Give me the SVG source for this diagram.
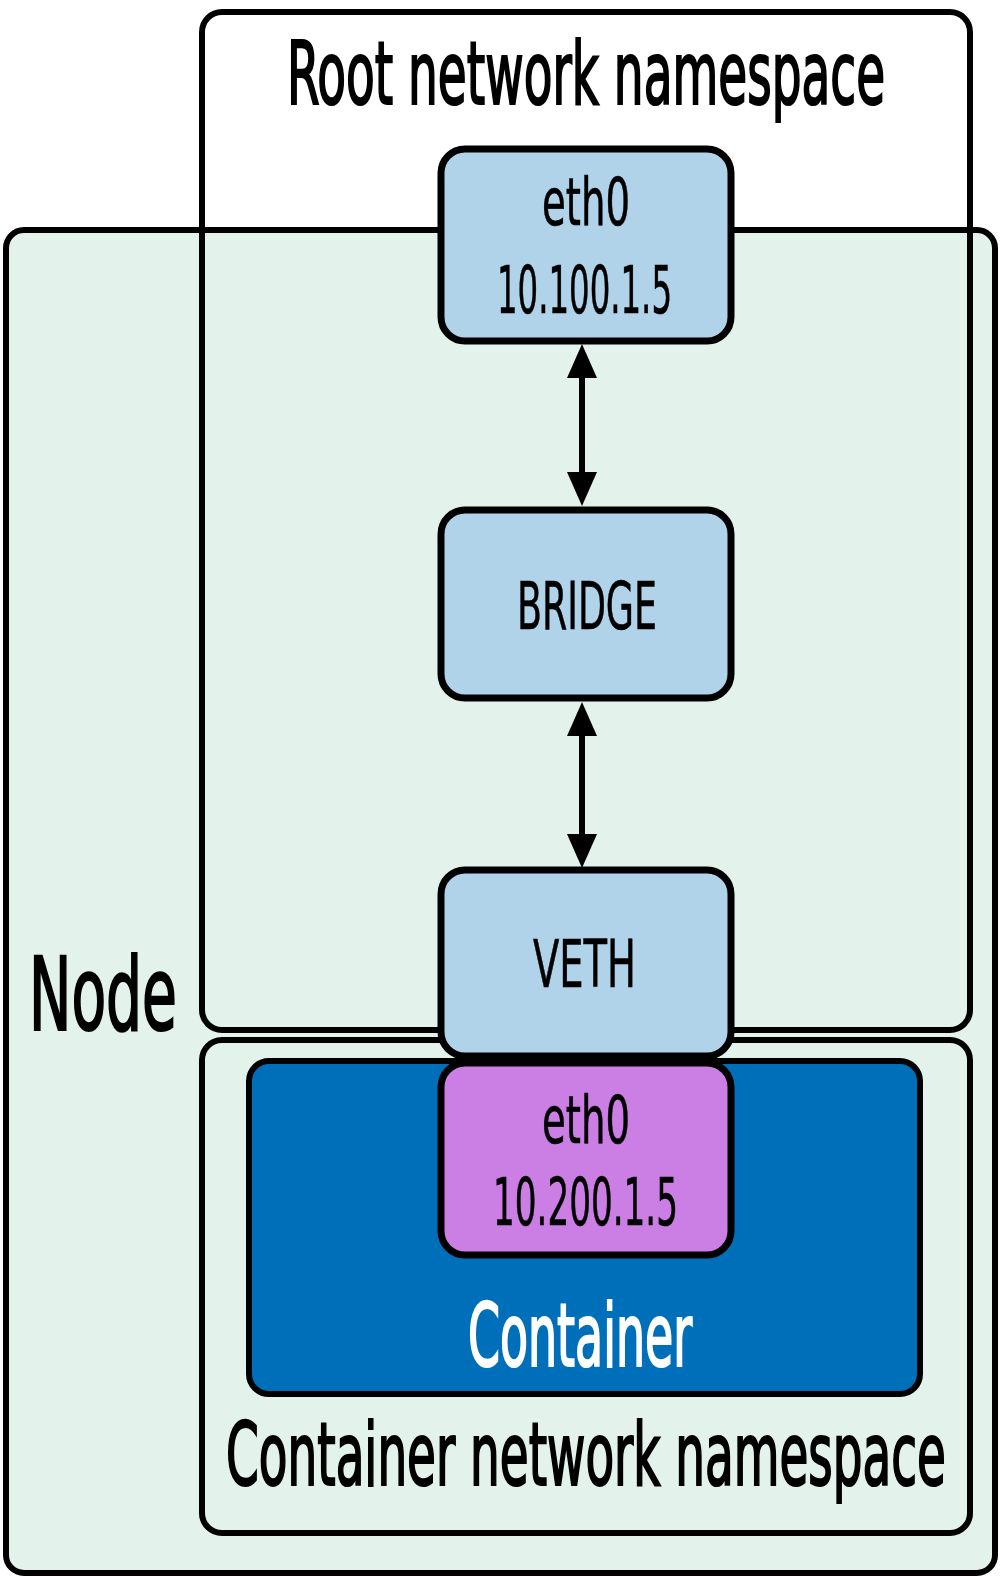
<svg xmlns="http://www.w3.org/2000/svg" width="1002" height="1577" viewBox="0 0 1002 1577">
  <style>
    .frame { stroke: #000; stroke-width: 6; }
    .iface { fill: #b1d3ea; stroke: #000; stroke-width: 7; }
    .pink { fill: #cb7ee3; stroke: #000; stroke-width: 7; }
    .t { font-family: "DejaVu Sans Condensed", "Liberation Sans", sans-serif; fill: #000; text-anchor: middle; }
    .big { font-size: 88px; stroke: #000; stroke-width: 2.2; }
    .mid { font-size: 66px; stroke: #000; stroke-width: 0.6; }
    .arrow { stroke: #000; stroke-width: 6; fill: none; }
    .head { fill: #000; }
  </style>
  <rect width="1002" height="1577" fill="#ffffff"/>

  <g id="node">
    <rect class="frame" x="6" y="230" width="989" height="1343" rx="18" fill="#e3f2eb"/>
    <text class="t big" transform="translate(29,1030) scale(0.74,1)" x="0" y="0" style="text-anchor:start;font-size:102px" textLength="200" lengthAdjust="spacingAndGlyphs">Node</text>
  </g>

  <g id="root-ns">
    <rect class="frame" x="202" y="12" width="768" height="1018" rx="20" fill="none"/>
    <text class="t big" transform="translate(586,104) scale(0.6,1)" x="0" y="0" textLength="997" lengthAdjust="spacingAndGlyphs">Root network namespace</text>
  </g>

  <g id="container-ns">
    <rect class="frame" x="202" y="1040" width="768" height="493" rx="20" fill="none"/>
    <text class="t big" transform="translate(586,1485) scale(0.58,1)" x="0" y="0" textLength="1241" lengthAdjust="spacingAndGlyphs">Container network namespace</text>
  </g>

  <g id="container">
    <rect x="249" y="1061" width="671" height="333" rx="20" fill="#006fb9" stroke="#000" stroke-width="6"/>
    <text class="t big" transform="translate(580,1366) scale(0.52,1)" x="0" y="0" style="fill:#ffffff;stroke:#ffffff" textLength="431" lengthAdjust="spacingAndGlyphs">Container</text>
  </g>

  <g id="connectors">
    <line class="arrow" x1="582" y1="370" x2="582" y2="480"/>
    <polygon class="head" points="582,344 567,378 597,378"/>
    <polygon class="head" points="582,506 567,472 597,472"/>
    <line class="arrow" x1="582" y1="728" x2="582" y2="842"/>
    <polygon class="head" points="582,702 567,736 597,736"/>
    <polygon class="head" points="582,868 567,834 597,834"/>
  </g>

  <g id="eth0-root">
    <rect class="iface" x="441" y="149" width="290" height="192" rx="24"/>
    <text class="t mid" x="586" y="225" textLength="88" lengthAdjust="spacingAndGlyphs">eth0</text>
    <text class="t mid" x="584.5" y="313" textLength="175" lengthAdjust="spacingAndGlyphs">10.100.1.5</text>
  </g>

  <g id="bridge">
    <rect class="iface" x="441" y="510" width="290" height="188" rx="24"/>
    <text class="t mid" x="587" y="629" textLength="140" lengthAdjust="spacingAndGlyphs">BRIDGE</text>
  </g>

  <g id="veth">
    <rect class="iface" x="441" y="870" width="290" height="186" rx="24"/>
    <text class="t mid" x="584.5" y="987" textLength="103" lengthAdjust="spacingAndGlyphs">VETH</text>
  </g>

  <g id="eth0-container">
    <rect class="pink" x="441" y="1063" width="290" height="192" rx="24"/>
    <text class="t mid" x="586" y="1143" textLength="88" lengthAdjust="spacingAndGlyphs">eth0</text>
    <text class="t mid" x="585.5" y="1225" textLength="185" lengthAdjust="spacingAndGlyphs">10.200.1.5</text>
  </g>
</svg>
